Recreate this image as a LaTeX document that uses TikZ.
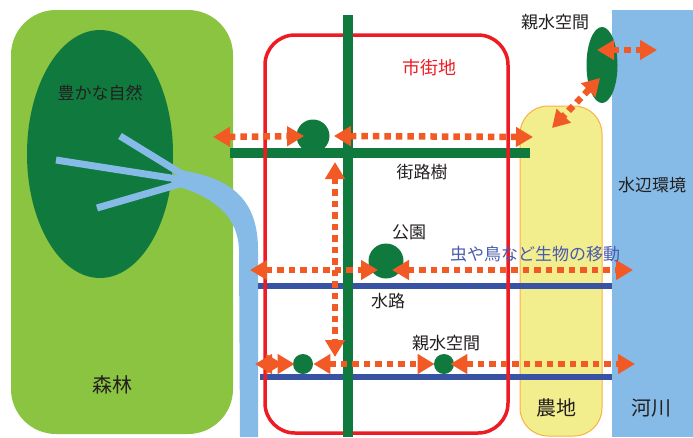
\documentclass[tikz,border=0pt]{standalone}
\usepackage{fontspec}
\newfontfamily\jpfont{Noto Sans CJK JP}
\usetikzlibrary{arrows.meta,shapes.geometric}

\definecolor{forestgreen}{RGB}{138,196,64}
\definecolor{deepgreen}{RGB}{16,122,62}
\definecolor{waterblue}{RGB}{133,187,230}
\definecolor{canalblue}{RGB}{57,83,164}
\definecolor{townred}{RGB}{237,28,36}
\definecolor{fieldyellow}{RGB}{242,238,142}
\definecolor{fieldedge}{RGB}{251,176,64}
\definecolor{moveorange}{RGB}{241,90,36}
\definecolor{labelblue}{RGB}{72,90,172}
\definecolor{labelgray}{RGB}{35,31,32}

\tikzset{every picture/.style={line width=0.75pt},
  bigtip/.tip={Triangle[length=17pt,width=19pt]},
  move/.style={draw=moveorange, line width=6.5pt, dash pattern=on 6.5pt off 5pt},
  spot/.style={circle, fill=deepgreen, inner sep=0pt},
  lbl/.style={inner sep=0.75pt, text=labelgray, font=\jpfont\fontsize{17}{17}\selectfont},
  biglbl/.style={lbl, font=\jpfont\fontsize{20}{20}\selectfont}}

\begin{document}
\begin{tikzpicture}[x=1pt,y=1pt,yscale=-1,xscale=1]
\useasboundingbox (0,0) rectangle (693,437);

%Shape: Rounded Rect (forest)
\fill[forestgreen, rounded corners=45pt] (11,10) rectangle (233,434);
%Shape: Ellipse (rich nature)
\fill[deepgreen] (100,154) ellipse [x radius=73, y radius=124];
%Straight Lines (river branches)
\draw[waterblue, line width=7pt] (120,136) -- (190,179);
\draw[waterblue, line width=7pt] (56,160) -- (190,181);
\draw[waterblue, line width=7pt] (97,208) -- (190,181);
%Shape: River
\fill[waterblue] (180,170) .. controls (232,178) and (258,200) .. (258,250) -- (258,437) -- (240,437) -- (239,250) .. controls (238,217) and (216,199) .. (180,187) -- cycle;

%Shape: Rounded Rect (farmland)
\filldraw[fill=fieldyellow, draw=fieldedge, line width=1pt, rounded corners=28pt] (520,106) rectangle (602,436);
%Shape: Rect (waterside)
\fill[waterblue] (612,10) rectangle (693,437);

%Straight Lines (street and canals)
\draw[deepgreen, line width=10pt] (230,153) -- (530,153);
\draw[canalblue, line width=6pt] (258,286) -- (612,286);
\draw[canalblue, line width=6pt] (260,377) -- (612,377);
%Shape: Rounded Rect (town)
\draw[townred, line width=3.5pt, rounded corners=30pt] (265,35) rectangle (508,433);
%Straight Lines (main street)
\draw[deepgreen, line width=10pt] (348,15) -- (348,437);

%Shape: Circles and Ellipse
\node[spot, minimum size=33pt] (tree) at (313,136) {};
\node[spot, minimum size=35pt] (park) at (386,261) {};
\node[spot, minimum size=20pt] (spotA) at (303,364) {};
\node[spot, minimum size=20pt] (spotB) at (444,364) {};
\node[ellipse, fill=deepgreen, inner sep=0pt, minimum width=31pt, minimum height=76pt] (spotN) at (602,65) {};

%Coordinates of free ends
\coordinate (forestE) at (213,137);
\coordinate (fieldW) at (533,137);
\coordinate (crossT) at (335,162);
\coordinate (crossB) at (335,357);
\coordinate (riverM) at (250,270);
\coordinate (parkL) at (378,270);
\coordinate (parkR) at (392,270);
\coordinate (riverEM) at (633,270);
\coordinate (riverL) at (255,364);
\coordinate (riverLa) at (283,364);
\coordinate (riverLb) at (278,364);
\coordinate (riverEL) at (635,364);
\coordinate (spotNW) at (597,50);
\coordinate (spotNE) at (657,50);
\coordinate (spotNS) at (600,78);
\coordinate (fieldN) at (552,128);

%Straight Lines (movement)
\draw[move, bigtip-bigtip] (forestE) -- ([xshift=8pt]tree.west);
\draw[move, bigtip-bigtip] ([xshift=4pt]tree.east) -- (fieldW);
\draw[move, bigtip-bigtip] (crossT) -- (crossB);
\draw[move, bigtip-bigtip] (riverM) -- (parkL);
\draw[move, bigtip-bigtip] (parkR) -- (riverEM);
\draw[move, bigtip-bigtip] (riverL) -- (riverLa);
\draw[move, -bigtip] (riverLb) -- ([xshift=2pt]spotA.west);
\draw[move, bigtip-bigtip] (spotA.east) -- ([xshift=1pt]spotB.west);
\draw[move, bigtip-bigtip] ([xshift=-4pt]spotB.east) -- (riverEL);
\draw[move, bigtip-bigtip] (spotNW) -- (spotNE);
\draw[move, bigtip-bigtip] (spotNS) -- (fieldN);

% Text Node
\node[lbl] (nature) at (100,93) {豊かな自然};
\node[biglbl] (forest) at (112,385) {森林};
\node[lbl, text=townred, font=\jpfont\fontsize{18}{18}\selectfont] (town) at (429,68) {市街地};
\node[lbl] (trees) at (422,172) {街路樹};
\node[lbl] (parklbl) at (409,232) {公園};
\node[lbl] (canal) at (388,301) {水路};
\node[lbl] (spotlbl) at (446,343) {親水空間};
\node[lbl] (spotNlbl) at (555,22) {親水空間};
\node[lbl] (waterside) at (652,185) {水辺環境};
\node[lbl, text=labelblue] (moving) at (535,254) {虫や鳥など生物の移動};
\node[biglbl] (field) at (556,408) {農地};
\node[biglbl] (river) at (651,408) {河川};

\end{tikzpicture}
\end{document}
